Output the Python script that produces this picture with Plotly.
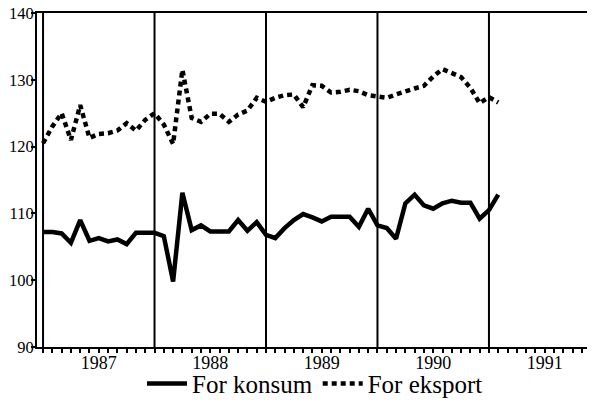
import plotly.graph_objects as go

# Monthly index: 0 = Jan 1987
months = list(range(50))
konsum = [107.2, 107.2, 107.0, 105.6, 109.0, 105.9, 106.3, 105.8, 106.1, 105.4,
          107.1, 107.1, 107.1, 106.6, 99.8, 113.1, 107.5, 108.2, 107.3, 107.3,
          107.3, 109.0, 107.4, 108.7, 106.8, 106.3, 107.8, 109.0, 109.9, 109.4,
          108.8, 109.5, 109.5, 109.5, 108.0, 110.7, 108.2, 107.8, 106.2, 111.5,
          112.8, 111.2, 110.7, 111.5, 111.9, 111.6, 111.6, 109.2, 110.5, 112.8]
eksport = [120.5, 123.0, 125.0, 121.0, 126.2, 121.3, 121.9, 122.0, 122.4, 123.5,
           122.4, 124.0, 125.0, 123.3, 120.4, 131.5, 124.3, 123.7, 124.9, 124.9,
           123.7, 124.8, 125.4, 127.3, 126.7, 127.3, 127.7, 127.8, 125.9, 129.2,
           129.1, 128.1, 128.2, 128.5, 128.3, 127.7, 127.5, 127.3, 127.8, 128.3,
           128.7, 129.1, 130.5, 131.6, 131.0, 130.4, 128.8, 126.5, 127.4, 126.6]
years = ["1987", "1988", "1989", "1990", "1991"]
year_start_months = [0, 12, 24, 36, 48]
y_ticks = [90, 100, 110, 120, 130, 140]

tick_months = list(range(0, 60))
tick_text = [years[m // 12] if m % 12 == 6 else "" for m in tick_months]

font_family = "Liberation Serif"

fig = go.Figure()
fig.add_trace(go.Scatter(x=months, y=konsum, mode="lines", name="For konsum",
                         line=dict(color="black", width=4.5)))
fig.add_trace(go.Scatter(x=months, y=eksport, mode="lines", name="For eksport",
                         line=dict(color="black", width=4.5, dash="5px,4px")))

for m in year_start_months:
    fig.add_shape(type="line", xref="x", yref="paper", x0=m, x1=m, y0=0, y1=1,
                  line=dict(color="black", width=2), layer="below")

fig.update_layout(
    width=587, height=397,
    margin=dict(l=29, r=2, t=5, b=58, autoexpand=False),
    paper_bgcolor="white", plot_bgcolor="white",
    font=dict(family=font_family, color="black", size=18),
    showlegend=True,
    legend=dict(orientation="h", x=0.5, xanchor="center", y=-0.11, yanchor="middle",
                font=dict(size=25, family=font_family, color="black"),
                itemwidth=40, tracegroupgap=0, bgcolor="rgba(0,0,0,0)"),
)
fig.update_xaxes(range=[-0.65, 59.2], tickmode="array", tickvals=tick_months,
                 ticktext=tick_text, ticks="outside", ticklen=4, tickwidth=2,
                 tickcolor="black", showline=True, linecolor="black", linewidth=2,
                 mirror=True, showgrid=False, zeroline=False, automargin=False,
                 ticklabelstandoff=-6, ticklabeloverflow="allow",
                 tickfont=dict(size=18, family=font_family, color="black"))
fig.update_yaxes(range=[90, 140], tickmode="array", tickvals=y_ticks,
                 ticks="outside", ticklen=4, tickwidth=2, tickcolor="black",
                 showline=True, linecolor="black", linewidth=2, showgrid=False,
                 zeroline=False, automargin=False, ticklabelstandoff=-6,
                 ticklabeloverflow="allow",
                 tickfont=dict(size=16.5, family=font_family, color="black"))

fig.write_html("out.html")
